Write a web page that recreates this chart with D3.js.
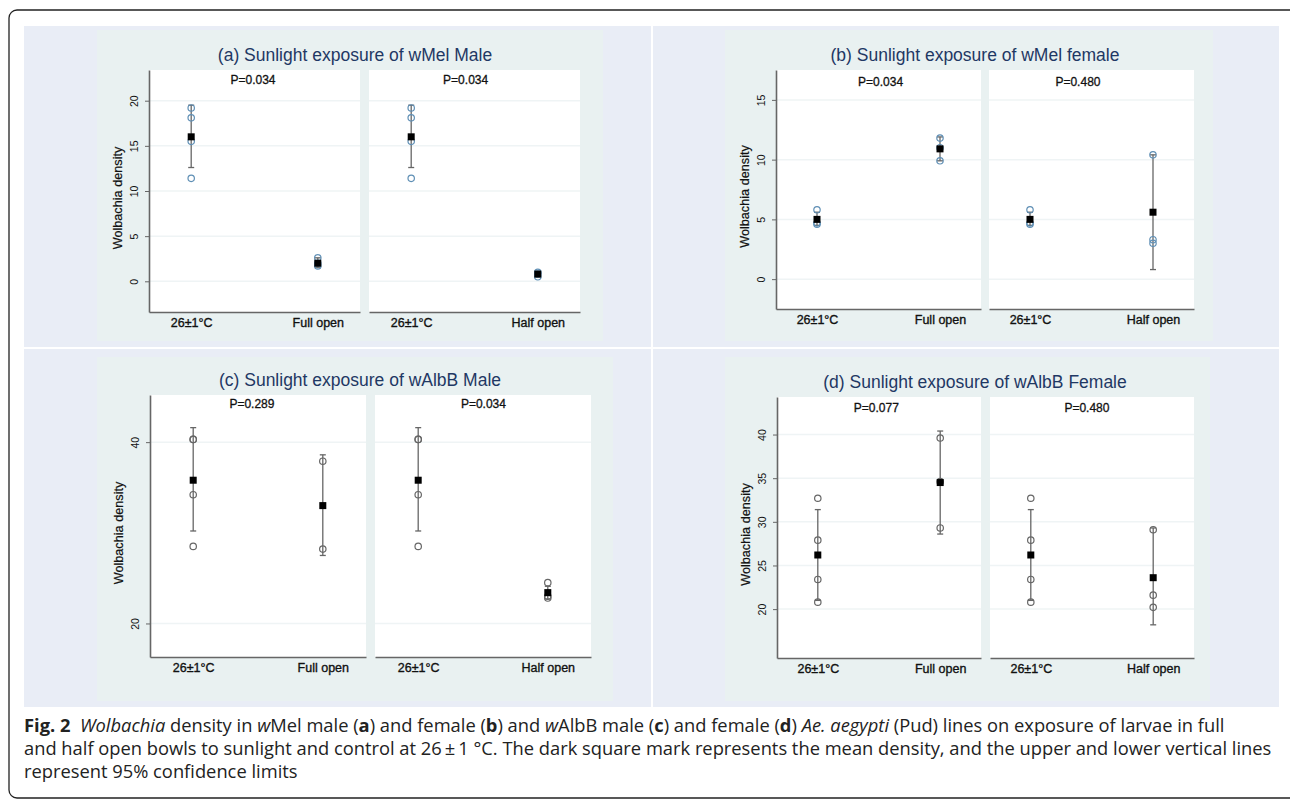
<!DOCTYPE html>
<html>
<head>
<meta charset="utf-8">
<script src="https://cdn.jsdelivr.net/npm/d3@7"></script>
<style>
body { margin: 0; background: #fff; }
.chart text { font-family: "Liberation Sans", Arial, sans-serif; }
.caption text { font-family: "Open Sans", sans-serif; }
</style>
</head>
<body>
<svg id="fig" width="1290" height="799"></svg>
<script>
var panelTitles = [
	"(a) Sunlight exposure of wMel Male",
	"(b) Sunlight exposure of wMel female",
	"(c) Sunlight exposure of wAlbB Male",
	"(d) Sunlight exposure of wAlbB Female"
];
var leftCats = ["26±1°C", "Full open"];
var rightCats = ["26±1°C", "Half open"];
var pLabels = [["P=0.034", "P=0.034"], ["P=0.034", "P=0.480"], ["P=0.289", "P=0.034"], ["P=0.077", "P=0.480"]];
var yTicks = [[0, 5, 10, 15, 20], [0, 5, 10, 15], [20, 40], [20, 25, 30, 35, 40]];

// groups: control (left), full open, control (right), half open
var wMelMalePoints = [[19.2, 18.1, 15.5, 11.4], [2.6, 2.0, 1.7], [19.2, 18.1, 15.5, 11.4], [0.5, 0.8, 1.0]];
var wMelMaleMean = [16.0, 2.0, 16.0, 0.8];
var wMelMaleLow = [12.6, 1.5, 12.6, 0.5];
var wMelMaleHigh = [19.5, 2.6, 19.5, 1.1];

var wMelFemalePoints = [[5.8, 4.7, 4.6], [11.8, 11.0, 9.9], [5.8, 4.7, 4.6], [10.4, 3.3, 3.0]];
var wMelFemaleMean = [5.0, 10.9, 5.0, 5.6];
var wMelFemaleLow = [4.5, 9.9, 4.5, 0.8];
var wMelFemaleHigh = [5.6, 11.9, 5.6, 10.4];

var wAlbBMalePoints = [[40.3, 40.3, 34.2, 28.5], [37.9, 28.2], [40.3, 40.3, 34.2, 28.5], [24.5, 23.0, 22.8]];
var wAlbBMaleMean = [35.8, 33.0, 35.8, 23.4];
var wAlbBMaleLow = [30.2, 27.5, 30.2, 22.7];
var wAlbBMaleHigh = [41.6, 38.6, 41.6, 24.1];

var wAlbBFemalePoints = [[32.7, 27.9, 23.4, 20.8], [39.6, 34.6, 29.3], [32.7, 27.9, 23.4, 20.8], [29.1, 21.6, 20.2]];
var wAlbBFemaleMean = [26.2, 34.5, 26.2, 23.6];
var wAlbBFemaleLow = [21.0, 28.6, 21.0, 18.2];
var wAlbBFemaleHigh = [31.4, 40.4, 31.4, 29.3];

var panelData = [
	{pts: wMelMalePoints, mean: wMelMaleMean, lo: wMelMaleLow, hi: wMelMaleHigh},
	{pts: wMelFemalePoints, mean: wMelFemaleMean, lo: wMelFemaleLow, hi: wMelFemaleHigh},
	{pts: wAlbBMalePoints, mean: wAlbBMaleMean, lo: wAlbBMaleLow, hi: wAlbBMaleHigh},
	{pts: wAlbBFemalePoints, mean: wAlbBFemaleMean, lo: wAlbBFemaleLow, hi: wAlbBFemaleHigh}
];

// page geometry
var layout = [
	{x0: 149, w: 211, gap: 9, top: 70, bottom: 312, dom: [-3.4, 23.4], tx: 355, ty: 61, py: 84, pf: [0.493, 0.458], dot: "#5f8fb5",
		bg: [24, 26, 627, 321], tint: [97, 30, 506, 311]},
	{x0: 776, w: 205, gap: 8, top: 70, bottom: 309, dom: [-2.5, 17.5], tx: 975, ty: 61, py: 86, pf: [0.51, 0.434], dot: "#5f8fb5",
		bg: [653, 26, 626, 321], tint: [725, 30, 488, 311]},
	{x0: 150, w: 216, gap: 9, top: 395, bottom: 657, dom: [16.3, 45.2], tx: 360, ty: 386, py: 408, pf: [0.472, 0.502], dot: "#666",
		bg: [24, 349, 627, 358], tint: [97, 357, 516, 344]},
	{x0: 777, w: 204, gap: 9, top: 397, bottom: 658, dom: [14.4, 44.3], tx: 975, ty: 388, py: 412, pf: [0.487, 0.475], dot: "#666",
		bg: [653, 349, 626, 358], tint: [725, 357, 485, 344]}
];

var svg = d3.select("#fig");
var chart = svg.append("g").attr("class", "chart");

layout.forEach(function(L, i){
	var D = panelData[i];
	var g = chart.append("g");

	g.append("rect").attr("x", L.bg[0]).attr("y", L.bg[1]).attr("width", L.bg[2]).attr("height", L.bg[3]).attr("fill", "#e9edf6");
	g.append("rect").attr("x", L.tint[0]).attr("y", L.tint[1]).attr("width", L.tint[2]).attr("height", L.tint[3]).attr("fill", "#e9f1f1");

	g.append("text")
		.attr("x", L.tx).attr("y", L.ty)
		.attr("text-anchor", "middle")
		.attr("font-size", 17.5)
		.attr("fill", "#1f3864")
		.text(panelTitles[i]);

	var y = d3.scaleLinear().domain(L.dom).range([L.bottom, L.top]);

	[0, 1].forEach(function(s){
		var sx = L.x0 + s * (L.w + L.gap);
		var cats = s == 0 ? leftCats : rightCats;
		var x = d3.scalePoint().domain(cats).range([sx, sx + L.w]).padding(1 / 3);

		g.append("rect")
			.attr("x", sx).attr("y", L.top)
			.attr("width", L.w).attr("height", L.bottom - L.top)
			.attr("fill", "#fff");

		g.selectAll(null).data(yTicks[i]).enter().append("line")
			.attr("x1", sx).attr("x2", sx + L.w)
			.attr("y1", function(d){ return y(d); })
			.attr("y2", function(d){ return y(d); })
			.attr("stroke", "#eff4f5").attr("stroke-width", 1.5);

		var xa = g.append("g")
			.attr("transform", "translate(0," + L.bottom + ")")
			.call(d3.axisBottom(x).tickSize(0).tickSizeOuter(0).tickPadding(6));
		xa.select(".domain").attr("stroke", "#666").attr("stroke-width", 1.6);
		xa.selectAll("text")
			.attr("font-family", null)
			.attr("font-size", 12.5)
			.attr("fill", "#111")
			.attr("stroke", "#111").attr("stroke-width", 0.35);

		g.append("text")
			.attr("x", sx + L.pf[s] * L.w).attr("y", L.py)
			.attr("text-anchor", "middle")
			.attr("font-size", 12)
			.attr("fill", "#111")
			.attr("stroke", "#111").attr("stroke-width", 0.3)
			.text(pLabels[i][s]);

		// groups 0,1 on left, 2,3 on right
		cats.forEach(function(c, j){
			var k = s * 2 + j;
			var cx = x(c);
			var eb = g.append("g").attr("stroke", "#666").attr("stroke-width", 1.3);
			eb.append("line").attr("x1", cx).attr("x2", cx).attr("y1", y(D.lo[k])).attr("y2", y(D.hi[k]));
			eb.append("line").attr("x1", cx - 3).attr("x2", cx + 3).attr("y1", y(D.lo[k])).attr("y2", y(D.lo[k]));
			eb.append("line").attr("x1", cx - 3).attr("x2", cx + 3).attr("y1", y(D.hi[k])).attr("y2", y(D.hi[k]));

			g.selectAll(null).data(D.pts[k]).enter().append("circle")
				.attr("cx", cx)
				.attr("cy", function(d){ return y(d); })
				.attr("r", 3.2)
				.attr("fill", "none")
				.attr("stroke", L.dot)
				.attr("stroke-width", 1.2);

			g.append("rect")
				.attr("x", cx - 3.5).attr("y", y(D.mean[k]) - 3.5)
				.attr("width", 7).attr("height", 7)
				.attr("fill", "#000");
		});
	});

	var ya = g.append("g")
		.attr("transform", "translate(" + L.x0 + ",0)")
		.call(d3.axisLeft(y).tickValues(yTicks[i]).tickSize(4).tickSizeOuter(0));
	ya.select(".domain").attr("stroke", "#666").attr("stroke-width", 1.6);
	ya.selectAll(".tick line").attr("stroke", "#666");
	ya.selectAll("text")
		.attr("font-family", null)
		.attr("font-size", 10.5)
		.attr("fill", "#111")
		.attr("text-anchor", "middle")
		.attr("transform", "rotate(-90)")
		.attr("x", 0).attr("y", -11).attr("dy", null);

	g.append("text")
		.attr("transform", "translate(" + (L.x0 - 27.5) + "," + ((L.top + L.bottom) / 2 + 7) + ") rotate(-90)")
		.attr("text-anchor", "middle")
		.attr("font-size", 12.7)
		.attr("fill", "#111")
		.attr("stroke", "#111").attr("stroke-width", 0.2)
		.text("Wolbachia density");
});

// caption
var captionLines = [
	[["Fig. 2", "b"], ["  ", ""], ["Wolbachia", "i"], [" density in ", ""], ["w", "i"], ["Mel male (", ""], ["a", "b"], [") and female (", ""], ["b", "b"],
		[") and ", ""], ["w", "i"], ["AlbB male (", ""], ["c", "b"], [") and female (", ""], ["d", "b"], [") ", ""], ["Ae. aegypti", "i"],
		[" (Pud) lines on exposure of larvae in full", ""]],
	[["and half open bowls to sunlight and control at 26\u2009\u00b1\u20091 \u00b0C. The dark square mark represents the mean density, and the upper and lower vertical lines", ""]],
	[["represent 95% confidence limits", ""]]
];

var cap = svg.append("g").attr("class", "caption");
var capLines = captionLines.map(function(line, li){
	var t = cap.append("text")
		.attr("x", 24).attr("y", 732 + li * 23)
		.attr("font-size", 15)
		.attr("fill", "#222")
		.style("white-space", "pre");
	line.forEach(function(seg){
		t.append("tspan")
			.attr("font-weight", seg[1] == "b" ? "bold" : null)
			.attr("font-style", seg[1] == "i" ? "italic" : null)
			.text(seg[0]);
	});
	return t;
});
// fit the second (longest) line to its width in the figure
var capSize = 15 * 1248 / capLines[1].node().getComputedTextLength();
capLines.forEach(function(t){ t.attr("font-size", capSize); });

svg.append("rect")
	.attr("x", 9).attr("y", 10)
	.attr("width", 1292).attr("height", 788)
	.attr("rx", 8)
	.attr("fill", "none")
	.attr("stroke", "#222")
	.attr("stroke-width", 1.3);
</script>
</body>
</html>
